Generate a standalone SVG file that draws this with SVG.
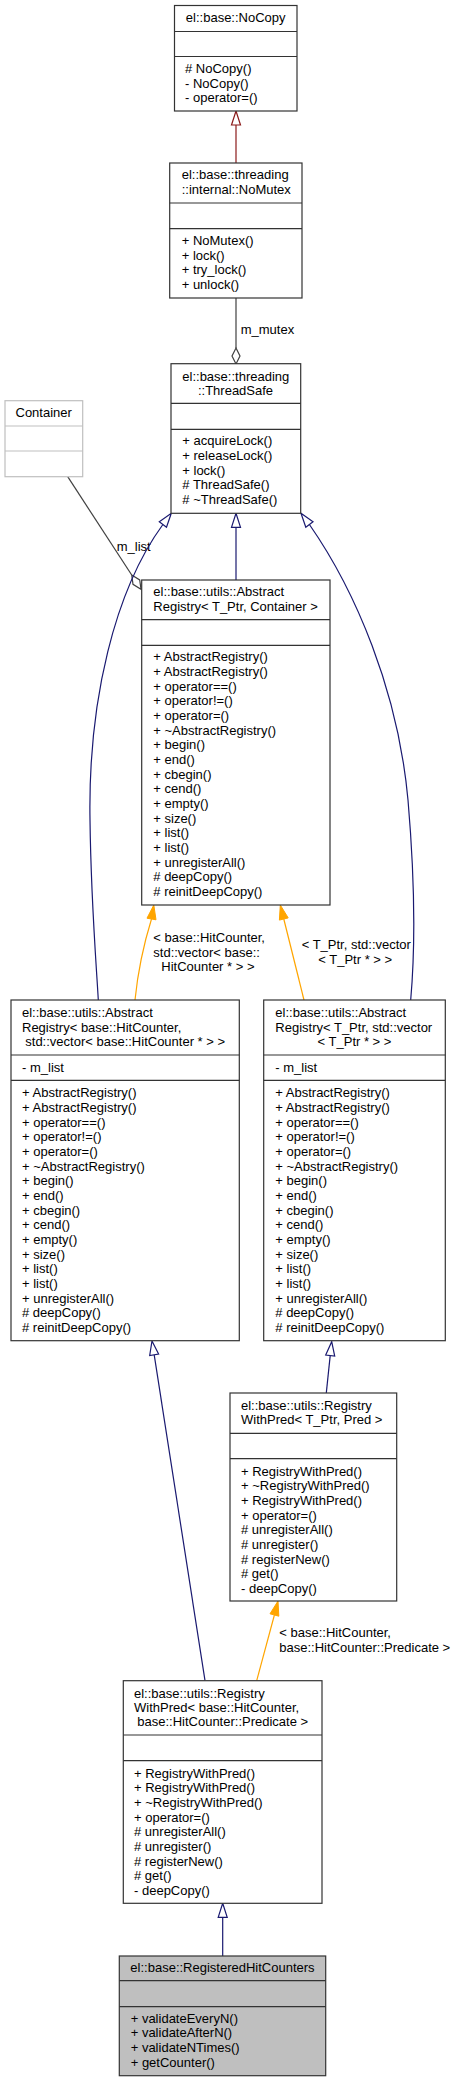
<svg xmlns="http://www.w3.org/2000/svg" width="457" height="2083" viewBox="0 0 457 2083">
<style>
text{font-family:"Liberation Sans",Arial,sans-serif;font-size:13px;fill:#000}
.m{text-anchor:middle}
.box{fill:#fff;stroke:#333;stroke-width:1.2}
.gray{fill:#fff;stroke:#bfbfbf;stroke-width:1.2}
.sel{fill:#bfbfbf;stroke:#333;stroke-width:1.2}
.div{stroke:#333;stroke-width:1.2;fill:none}
.divg{stroke:#bfbfbf;stroke-width:1.2;fill:none}
.pub{stroke:#191970;fill:none;stroke-width:1.2}
.pubh{stroke:#191970;fill:#fff;stroke-width:1.2}
.priv{stroke:#8b1a1a;fill:none;stroke-width:1.2}
.privh{stroke:#8b1a1a;fill:#fff;stroke-width:1.2}
.tmpl{stroke:#ffa500;fill:none;stroke-width:1.2}
.tmplh{stroke:#ffa500;fill:#ffa500;stroke-width:1}
.use{stroke:#404040;fill:none;stroke-width:1.2}
.useh{stroke:#404040;fill:#fff;stroke-width:1.2}
</style>
<rect width="457" height="2083" fill="#fff"/>
<g id="connectors">
<!-- NoMutex -> NoCopy -->
<path class="priv" d="M236,163 L236,125"/>
<polygon class="privh" points="236,111 240.5,125 231.5,125"/>
<!-- m_mutex -->
<path class="use" d="M236,298 L236,348"/>
<polygon class="useh" points="236,348 240,356 236,364 232,356"/>
<text x="240.7" y="334">m_mutex</text>
<!-- m_list -->
<path class="use" d="M67.7,476.7 L131.7,575"/>
<polygon class="useh" points="131.7,575 139.7,579.9 141,589.2 133,584.3"/>
<text x="116.7" y="550.7">m_list</text>
<!-- AbstractRegistry<T_Ptr,Container> -> ThreadSafe -->
<path class="pub" d="M236,580 L236,527.3"/>
<polygon class="pubh" points="236,513.3 240.5,527.3 231.5,527.3"/>
<!-- left AR -> ThreadSafe -->
<path class="pub" d="M162.9,524.5 C115,590 88,700 90,820 C91,900 96,960 98.3,1000"/>
<polygon class="pubh" points="171.3,513.3 166.5,527.2 159.3,521.8"/>
<!-- right AR -> ThreadSafe -->
<path class="pub" d="M309.4,524.5 C355,590 398,690 408,800 C414,870 416,940 410.7,1000"/>
<polygon class="pubh" points="301,513.3 313,521.8 305.8,527.2"/>
<!-- left AR -> AR<T_Ptr,Container> (template) -->
<path class="tmpl" d="M135,1000 C138,970 145,940 151.5,919"/>
<polygon class="tmplh" points="153.8,905 156,919.8 147,918.2"/>
<text x="153.3" y="942.3">&lt; base::HitCounter,</text>
<text x="153.3" y="957.3">std::vector&lt; base::</text>
<text x="161.3" y="971.3">HitCounter * &gt; &gt;</text>
<!-- right AR -> AR<T_Ptr,Container> (template) -->
<path class="tmpl" d="M304,1000 L283.8,919"/>
<polygon class="tmplh" points="280.3,905 288.2,917.9 279.4,920.1"/>
<text x="301.7" y="949.3">&lt; T_Ptr, std::vector</text>
<text x="318.3" y="963.7">&lt; T_Ptr * &gt; &gt;</text>
<!-- RWP<HitCounter> -> left AR -->
<path class="pub" d="M205,1680.7 L154.2,1354.8"/>
<polygon class="pubh" points="152,1341 158.6,1354.1 149.7,1355.5"/>
<!-- RWP<T_Ptr,Pred> -> right AR -->
<path class="pub" d="M326.3,1393 L330.2,1355.6"/>
<polygon class="pubh" points="331.7,1341.7 334.7,1356.1 325.7,1355.1"/>
<!-- RWP<HitCounter> -> RWP<T_Ptr,Pred> (template) -->
<path class="tmpl" d="M256.7,1680.7 L274.4,1615"/>
<polygon class="tmplh" points="278,1601 278.8,1616.2 270,1613.8"/>
<text x="279.3" y="1637.3">&lt; base::HitCounter,</text>
<text x="279.3" y="1652.3">base::HitCounter::Predicate &gt;</text>
<!-- RegisteredHitCounters -> RWP<HitCounter> -->
<path class="pub" d="M222.7,1956 L222.7,1917.3"/>
<polygon class="pubh" points="222.7,1903.3 227.2,1917.3 218.2,1917.3"/>
</g>
<g id="NoCopy">
<rect class="box" x="174.5" y="5.5" width="122.5" height="105.5"/>
<path class="div" d="M174.5,31.5 H297 M174.5,56.5 H297"/>
<text class="m" x="235.7" y="22.3">el::base::NoCopy</text>
<text x="185" y="73">#  NoCopy()</text>
<text x="185" y="87.7">-  NoCopy()</text>
<text x="185" y="102.3">-  operator=()</text>
</g>
<g id="NoMutex">
<rect class="box" x="169.7" y="163" width="132.3" height="135"/>
<path class="div" d="M169.7,203 H302 M169.7,228.7 H302"/>
<text x="181.7" y="179">el::base::threading</text>
<text x="181.7" y="194">::internal::NoMutex</text>
<text x="181.7" y="245">+ NoMutex()</text>
<text x="181.7" y="259.7">+ lock()</text>
<text x="181.7" y="274.3">+ try_lock()</text>
<text x="181.7" y="289">+ unlock()</text>
</g>
<g id="ThreadSafe">
<rect class="box" x="171" y="363.7" width="129.7" height="149.6"/>
<path class="div" d="M171,403.3 H300.7 M171,429.3 H300.7"/>
<text x="182.3" y="380.7">el::base::threading</text>
<text class="m" x="235.5" y="395.3">::ThreadSafe</text>
<text x="182.3" y="445.3">+ acquireLock()</text>
<text x="182.3" y="460">+ releaseLock()</text>
<text x="182.3" y="474.7">+ lock()</text>
<text x="182.3" y="489.3">#  ThreadSafe()</text>
<text x="182.3" y="504">#  ~ThreadSafe()</text>
</g>
<g id="Container">
<rect class="gray" x="5" y="400.7" width="77.7" height="76"/>
<path class="divg" d="M5,426 H82.7 M5,451 H82.7"/>
<text class="m" x="43.7" y="417.3">Container</text>
</g>
<g id="AbstractRegistryGeneric">
<rect class="box" x="141.7" y="580" width="188.3" height="325"/>
<path class="div" d="M141.7,619.7 H330 M141.7,645.3 H330"/>
<text x="153.3" y="596.3">el::base::utils::Abstract</text>
<text x="153.3" y="611.3">Registry&lt; T_Ptr, Container &gt;</text>
<text x="153.3" y="661.3">+ AbstractRegistry()</text>
<text x="153.3" y="676">+ AbstractRegistry()</text>
<text x="153.3" y="690.7">+ operator==()</text>
<text x="153.3" y="705.3">+ operator!=()</text>
<text x="153.3" y="720">+ operator=()</text>
<text x="153.3" y="734.7">+ ~AbstractRegistry()</text>
<text x="153.3" y="749.3">+ begin()</text>
<text x="153.3" y="764">+ end()</text>
<text x="153.3" y="778.7">+ cbegin()</text>
<text x="153.3" y="793.3">+ cend()</text>
<text x="153.3" y="808">+ empty()</text>
<text x="153.3" y="822.7">+ size()</text>
<text x="153.3" y="837.3">+ list()</text>
<text x="153.3" y="852">+ list()</text>
<text x="153.3" y="866.7">+ unregisterAll()</text>
<text x="153.3" y="881.3">#  deepCopy()</text>
<text x="153.3" y="896">#  reinitDeepCopy()</text>
</g>
<g id="AbstractRegistryHitCounter">
<rect class="box" x="11" y="1000" width="228.3" height="340.7"/>
<path class="div" d="M11,1055 H239.3 M11,1080.3 H239.3"/>
<text x="22" y="1017.3">el::base::utils::Abstract</text>
<text x="22" y="1031.7">Registry&lt; base::HitCounter,</text>
<text class="m" x="125.2" y="1046.3">std::vector&lt; base::HitCounter * &gt; &gt;</text>
<text x="22" y="1071.7">- m_list</text>
<text x="22" y="1097.3">+ AbstractRegistry()</text>
<text x="22" y="1112">+ AbstractRegistry()</text>
<text x="22" y="1126.7">+ operator==()</text>
<text x="22" y="1141.3">+ operator!=()</text>
<text x="22" y="1156">+ operator=()</text>
<text x="22" y="1170.7">+ ~AbstractRegistry()</text>
<text x="22" y="1185.3">+ begin()</text>
<text x="22" y="1200">+ end()</text>
<text x="22" y="1214.7">+ cbegin()</text>
<text x="22" y="1229.3">+ cend()</text>
<text x="22" y="1244">+ empty()</text>
<text x="22" y="1258.7">+ size()</text>
<text x="22" y="1273.3">+ list()</text>
<text x="22" y="1288">+ list()</text>
<text x="22" y="1302.7">+ unregisterAll()</text>
<text x="22" y="1317.3">#  deepCopy()</text>
<text x="22" y="1332">#  reinitDeepCopy()</text>
</g>
<g id="AbstractRegistryVector">
<rect class="box" x="263.7" y="1000" width="181.6" height="340.7"/>
<path class="div" d="M263.7,1055 H445.3 M263.7,1080.3 H445.3"/>
<text x="275.3" y="1017.3">el::base::utils::Abstract</text>
<text x="275.3" y="1031.7">Registry&lt; T_Ptr, std::vector</text>
<text class="m" x="354.5" y="1046.3">&lt; T_Ptr * &gt; &gt;</text>
<text x="275.3" y="1071.7">- m_list</text>
<text x="275.3" y="1097.3">+ AbstractRegistry()</text>
<text x="275.3" y="1112">+ AbstractRegistry()</text>
<text x="275.3" y="1126.7">+ operator==()</text>
<text x="275.3" y="1141.3">+ operator!=()</text>
<text x="275.3" y="1156">+ operator=()</text>
<text x="275.3" y="1170.7">+ ~AbstractRegistry()</text>
<text x="275.3" y="1185.3">+ begin()</text>
<text x="275.3" y="1200">+ end()</text>
<text x="275.3" y="1214.7">+ cbegin()</text>
<text x="275.3" y="1229.3">+ cend()</text>
<text x="275.3" y="1244">+ empty()</text>
<text x="275.3" y="1258.7">+ size()</text>
<text x="275.3" y="1273.3">+ list()</text>
<text x="275.3" y="1288">+ list()</text>
<text x="275.3" y="1302.7">+ unregisterAll()</text>
<text x="275.3" y="1317.3">#  deepCopy()</text>
<text x="275.3" y="1332">#  reinitDeepCopy()</text>
</g>
<g id="RegistryWithPredGeneric">
<rect class="box" x="230" y="1393" width="166.7" height="208"/>
<path class="div" d="M230,1433.3 H396.7 M230,1458.7 H396.7"/>
<text x="241" y="1409.7">el::base::utils::Registry</text>
<text x="241" y="1424.3">WithPred&lt; T_Ptr, Pred &gt;</text>
<text x="241" y="1475.7">+ RegistryWithPred()</text>
<text x="241" y="1490.3">+ ~RegistryWithPred()</text>
<text x="241" y="1505">+ RegistryWithPred()</text>
<text x="241" y="1519.7">+ operator=()</text>
<text x="241" y="1534.3">#  unregisterAll()</text>
<text x="241" y="1549">#  unregister()</text>
<text x="241" y="1563.7">#  registerNew()</text>
<text x="241" y="1578.3">#  get()</text>
<text x="241" y="1593">-  deepCopy()</text>
</g>
<g id="RegistryWithPredHitCounter">
<rect class="box" x="123.3" y="1680.7" width="198.7" height="222.6"/>
<path class="div" d="M123.3,1735 H322 M123.3,1760.7 H322"/>
<text x="134" y="1697.7">el::base::utils::Registry</text>
<text x="134" y="1711.7">WithPred&lt; base::HitCounter,</text>
<text class="m" x="222.7" y="1726">base::HitCounter::Predicate &gt;</text>
<text x="134" y="1777.7">+ RegistryWithPred()</text>
<text x="134" y="1792.3">+ RegistryWithPred()</text>
<text x="134" y="1807">+ ~RegistryWithPred()</text>
<text x="134" y="1821.7">+ operator=()</text>
<text x="134" y="1836.3">#  unregisterAll()</text>
<text x="134" y="1851">#  unregister()</text>
<text x="134" y="1865.7">#  registerNew()</text>
<text x="134" y="1880.3">#  get()</text>
<text x="134" y="1895">-  deepCopy()</text>
</g>
<g id="RegisteredHitCounters">
<rect class="sel" x="119.3" y="1956" width="206.4" height="119.7"/>
<path class="div" d="M119.3,1980.7 H325.7 M119.3,2006.7 H325.7"/>
<text class="m" x="222.5" y="1972.3">el::base::RegisteredHitCounters</text>
<text x="130.7" y="2022.7">+ validateEveryN()</text>
<text x="130.7" y="2037.3">+ validateAfterN()</text>
<text x="130.7" y="2052">+ validateNTimes()</text>
<text x="130.7" y="2066.7">+ getCounter()</text>
</g>
</svg>
